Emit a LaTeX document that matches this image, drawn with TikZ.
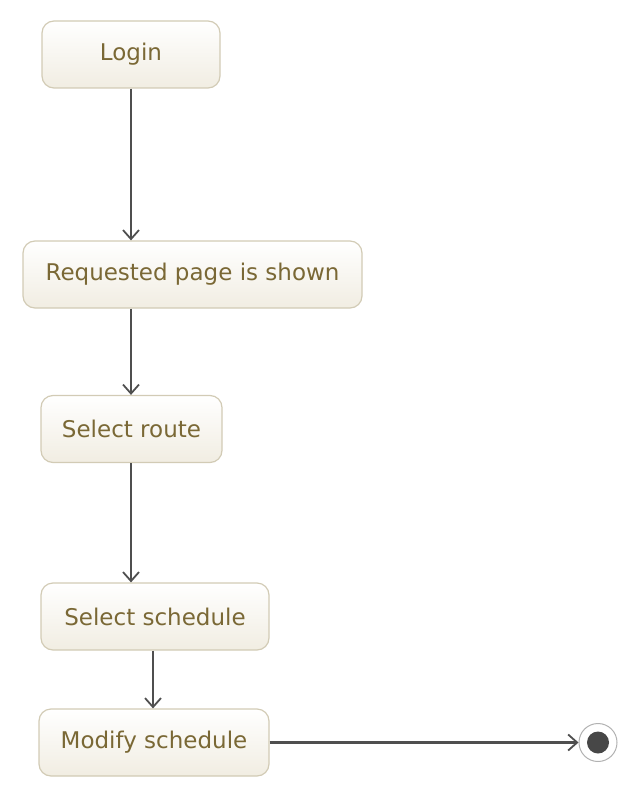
\documentclass[tikz,border=0pt]{standalone}
\usepackage{fontspec}
\setmainfont{DejaVu Sans}
\usetikzlibrary{arrows.meta,shadings}
\definecolor{txt}{HTML}{7A6835}
\definecolor{bord}{HTML}{D2CBB5}
\definecolor{fillA}{HTML}{FFFFFF}
\definecolor{fillB}{HTML}{F1EDE2}
\definecolor{edge}{HTML}{4F4F4F}
\tikzset{
  state/.style={draw=bord, line width=1.2pt, rounded corners=12pt, top color=fillA, bottom color=fillB,
    minimum height=67pt, inner sep=0pt, text=txt, font=\fontsize{23}{28}\selectfont},
  flow/.style={draw=edge, line width=2.2pt, -{Straight Barb[length=9pt,width=16pt,line width=1.8pt]}}
}
\begin{document}
\begin{tikzpicture}[x=1pt,y=-1pt]
\useasboundingbox (0,0) rectangle (628,786);
\node[state, minimum width=178pt] (login) at (131,54.5) {Login};
\node[state, minimum width=339pt] (req) at (192.5,274.5) {Requested page is shown};
\node[state, minimum width=181pt] (route) at (131.5,429) {Select route};
\node[state, minimum width=228pt] (sched) at (155,616.5) {Select schedule};
\node[state, minimum width=230pt] (mod) at (154,742.5) {Modify schedule};
\node[circle, draw=gray!60, line width=1pt, fill=white, minimum size=38pt, inner sep=0pt] (final) at (598,742.5) {};
\fill[black!72] (final.center) circle (11pt);
\draw[flow] (login.south -| 131,0) -- (req.north -| 131,0);
\draw[flow] (req.south -| 131,0) -- (route.north -| 131,0);
\draw[flow] (route.south -| 131,0) -- (sched.north -| 131,0);
\draw[flow] (sched.south -| 153,0) -- (mod.north -| 153,0);
\draw[flow] (mod.east) -- (final.west);
\end{tikzpicture}
\end{document}
